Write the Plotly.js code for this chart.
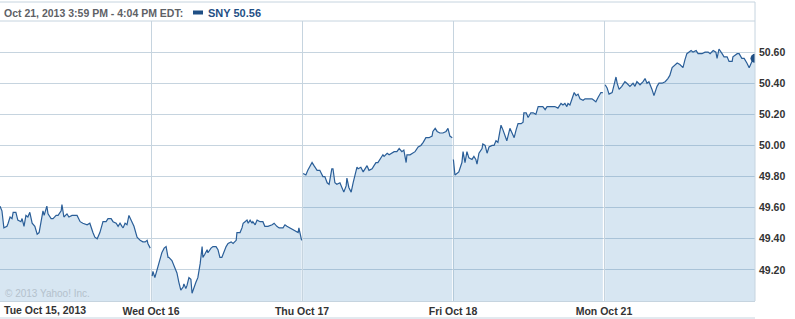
<!DOCTYPE html>
<html><head><meta charset="utf-8">
<script src="https://cdn.plot.ly/plotly-3.0.1.min.js"></script>
<style>html,body{margin:0;padding:0;background:#fff}#c{width:795px;height:319px}</style>
</head><body><div id="c"></div><script>
// ---- data (minutes since market open, price) ----
const symbol = 'SNY';
const headerText = 'Oct 21, 2013 3:59 PM - 4:04 PM EDT:';
const dayLabels = ['Tue Oct 15, 2013', 'Wed Oct 16', 'Thu Oct 17', 'Fri Oct 18', 'Mon Oct 21'];
const minutesPerDay = 390;
const yTicks = [49.2, 49.4, 49.6, 49.8, 50.0, 50.2, 50.4, 50.6];

const tueMin = [0,5,10,18,21,26,31,34,41,46,54,57,62,67,72,77,83,90,96,101,111,114,121,124,132,137,145,150,158,160,165,173,178,186,194,199,207,214,225,232,240,245,251,258,266,274,279,287,292,300,305,310,315,318,323,328,333,341,346,354,362,369,375,380,382,388];
const tuePx = [49.61,49.58,49.47,49.48,49.50,49.54,49.53,49.57,49.57,49.52,49.51,49.53,49.48,49.55,49.54,49.57,49.50,49.48,49.43,49.44,49.58,49.55,49.61,49.56,49.53,49.53,49.55,49.55,49.58,49.62,49.54,49.56,49.54,49.55,49.55,49.55,49.51,49.50,49.49,49.50,49.44,49.41,49.40,49.44,49.51,49.51,49.53,49.53,49.51,49.50,49.48,49.50,49.48,49.47,49.50,49.49,49.55,49.51,49.48,49.41,49.39,49.38,49.38,49.39,49.37,49.34];

const wedMin = [3,5,10,15,21,28,34,39,44,46,54,59,65,67,72,77,83,85,90,93,98,103,106,111,116,121,127,132,134,139,145,147,155,160,168,173,178,183,186,194,199,207,212,220,222,230,235,238,243,248,251,256,261,263,269,274,282,289,294,302,313,318,325,331,341,346,351,359,367,375,380,382,387,389];
const wedPx = [49.16,49.19,49.15,49.20,49.25,49.31,49.34,49.35,49.28,49.28,49.26,49.23,49.19,49.18,49.12,49.07,49.09,49.11,49.08,49.10,49.15,49.14,49.05,49.09,49.12,49.15,49.24,49.35,49.28,49.30,49.33,49.31,49.34,49.35,49.35,49.33,49.28,49.28,49.30,49.35,49.37,49.38,49.37,49.39,49.44,49.44,49.47,49.50,49.51,49.52,49.50,49.52,49.50,49.51,49.49,49.52,49.51,49.51,49.48,49.48,49.49,49.50,49.48,49.47,49.47,49.49,49.48,49.47,49.46,49.45,49.44,49.47,49.42,49.39];

const thuMin = [3,10,15,26,31,39,46,54,59,65,70,77,80,85,90,98,103,108,114,116,121,127,132,137,142,145,152,158,163,168,173,181,186,191,196,204,209,212,220,225,232,238,245,251,258,263,269,271,279,287,292,300,307,313,320,328,336,338,344,349,356,364,372,377,382,388];
const thuPx = [49.82,49.81,49.84,49.89,49.87,49.84,49.84,49.80,49.80,49.76,49.75,49.85,49.85,49.76,49.75,49.76,49.73,49.70,49.74,49.79,49.73,49.70,49.76,49.82,49.86,49.85,49.86,49.83,49.85,49.87,49.84,49.85,49.87,49.89,49.89,49.92,49.94,49.93,49.95,49.94,49.95,49.96,49.96,49.98,49.96,49.97,49.89,49.94,49.94,49.95,49.96,49.99,50.00,50.02,50.05,50.05,50.06,50.09,50.11,50.09,50.08,50.08,50.09,50.11,50.06,50.05];

const friMin = [1,5,10,15,23,26,31,36,41,49,54,59,62,67,75,77,83,88,93,101,106,111,116,124,129,139,147,152,158,163,168,176,181,183,189,194,201,207,214,220,227,232,238,243,251,263,271,279,284,289,294,297,302,307,313,318,323,328,336,341,349,359,364,369,375,382,387];
const friPx = [49.91,49.81,49.82,49.83,49.89,49.96,49.89,49.96,49.92,49.91,49.93,49.91,49.88,49.95,49.98,50.01,50.00,49.95,49.99,50.00,50.00,50.03,50.02,50.13,50.10,50.03,50.11,50.08,50.05,50.10,50.14,50.14,50.15,50.21,50.21,50.18,50.21,50.21,50.20,50.25,50.25,50.25,50.23,50.25,50.25,50.25,50.24,50.27,50.26,50.27,50.25,50.27,50.26,50.30,50.34,50.32,50.33,50.30,50.29,50.30,50.30,50.30,50.29,50.28,50.31,50.34,50.34];

const monMin = [3,8,13,21,26,31,34,39,46,54,59,67,75,80,85,93,101,106,111,116,124,129,137,142,150,158,165,170,176,181,189,196,204,209,214,225,230,238,243,253,261,269,274,282,289,292,297,305,310,318,323,331,333,344,349,356,362,369,375,382,385,390];
const monPx = [50.39,50.37,50.33,50.34,50.39,50.44,50.40,50.36,50.38,50.41,50.40,50.38,50.40,50.38,50.41,50.39,50.41,50.43,50.40,50.41,50.36,50.32,50.38,50.40,50.40,50.41,50.43,50.45,50.50,50.51,50.53,50.52,50.50,50.55,50.59,50.61,50.60,50.61,50.59,50.59,50.60,50.60,50.59,50.61,50.60,50.56,50.62,50.59,50.57,50.57,50.54,50.54,50.57,50.59,50.59,50.56,50.56,50.53,50.50,50.54,50.56,50.56];

const days = [[tueMin, tuePx], [wedMin, wedPx], [thuMin, thuPx], [friMin, friPx], [monMin, monPx]];

// ---- styling / layout ----
const W = 795, H = 319, ML = 0, MR = 40, MT = 21, MB = 18;
const plotW = W - ML - MR, plotH = H - MT - MB;
const px = p => (p - ML) / plotW;
const py = p => (H - MB - p) / plotH;
const FONT = 'Liberation Sans, Arial, sans-serif';
const lineCol = '#2a5e98', fillCol = 'rgba(57,130,190,0.2)', gridCol = '#c6d4df', dark = '#1f4f85';

const traces = days.map(([m, p], d) => ({
  type: 'scatter', mode: 'lines',
  x: m.map(v => d * minutesPerDay + v), y: p,
  line: {color: lineCol, width: 1.2}, fill: 'tozeroy', fillcolor: fillCol,
  hoverinfo: 'skip', showlegend: false
}));
const last = days[days.length - 1];
const lastX = (days.length - 1) * minutesPerDay + last[0][last[0].length - 1];
const lastY = last[1][last[1].length - 1];
traces.push({type: 'scatter', mode: 'markers', x: [lastX], y: [lastY],
  marker: {size: 9, color: dark}, hoverinfo: 'skip', showlegend: false});

const line = (x0, y0, x1, y1) => ({type: 'line', xref: 'paper', yref: 'paper', x0, y0, x1, y1,
  line: {color: gridCol, width: 1}, layer: 'above'});

const layout = {
  width: W, height: H, margin: {l: ML, r: MR, t: MT, b: MB, pad: 0},
  paper_bgcolor: '#fff', plot_bgcolor: '#fff', showlegend: false,
  font: {family: FONT, size: 10.5, color: '#333'},
  xaxis: {range: [0, days.length * minutesPerDay], tickvals: [1, 2, 3, 4].map(i => i * minutesPerDay),
    ticktext: dayLabels.slice(1), showgrid: true, gridcolor: gridCol, gridwidth: 1, zeroline: false,
    showline: true, linecolor: gridCol, ticks: '', fixedrange: true,
    tickfont: {family: FONT, size: 10.5, color: '#333', weight: 'bold'}},
  yaxis: {range: [49.0, 50.8], tickvals: yTicks, tickformat: '.2f', side: 'right',
    showgrid: true, gridcolor: gridCol, gridwidth: 1, zeroline: false, showline: false, ticks: '',
    ticklabelstandoff: 3, fixedrange: true,
    tickfont: {family: FONT, size: 10.5, color: '#333', weight: 'bold'}},
  shapes: [
    line(0, py(2), 1, py(2)),
    line(0, 1, 1, 1),
    line(1, py(2), 1, 0),
    line(0, py(318), 1, py(318)),
    {type: 'rect', xref: 'paper', yref: 'paper', x0: px(193), x1: px(203), y0: py(14.5), y1: py(10.5),
     fillcolor: dark, line: {width: 0}}
  ],
  annotations: [
    {xref: 'paper', yref: 'paper', x: px(2), y: py(12.5), xanchor: 'left', yanchor: 'middle', showarrow: false,
     text: headerText, font: {family: FONT, size: 10.5, color: '#5e6166', weight: 'bold'}},
    {xref: 'paper', yref: 'paper', x: px(206), y: py(12.5), xanchor: 'left', yanchor: 'middle', showarrow: false,
     text: symbol + ' ' + lastY.toFixed(2), font: {family: FONT, size: 11, color: dark, weight: 'bold'}},
    {xref: 'paper', yref: 'paper', x: px(2), y: py(310), xanchor: 'left', yanchor: 'middle', showarrow: false,
     text: dayLabels[0], font: {family: FONT, size: 10.5, color: '#333', weight: 'bold'}},
    {xref: 'paper', yref: 'paper', x: px(3), y: py(293), xanchor: 'left', yanchor: 'middle', showarrow: false,
     text: '© 2013 Yahoo! Inc.', font: {family: FONT, size: 10, color: '#b4c1cc'}}
  ]
};
Plotly.newPlot('c', traces, layout, {displayModeBar: false, staticPlot: true});
</script></body></html>
